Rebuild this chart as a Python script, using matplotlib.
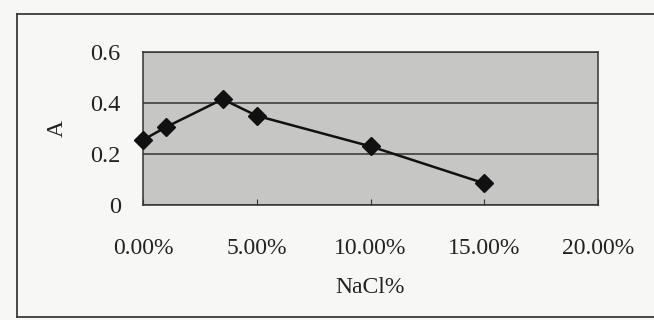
import matplotlib
matplotlib.use("Agg")
import matplotlib.pyplot as plt
from matplotlib.lines import Line2D

nacl = [0.0, 0.01, 0.035, 0.05, 0.10, 0.15]
absorb = [0.255, 0.305, 0.415, 0.35, 0.23, 0.085]
xticks = [0.0, 0.05, 0.10, 0.15, 0.20]
xticklabels = ["0.00%", "5.00%", "10.00%", "15.00%", "20.00%"]
yticks = [0, 0.2, 0.4, 0.6]
yticklabels = ["0", "0.2", "0.4", "0.6"]

plt.rcParams['font.family'] = ['Liberation Serif', 'DejaVu Serif']

W, H = 654, 320
fig = plt.figure(figsize=(6.54, 3.2), dpi=100, facecolor='#f7f7f5')
# outer chart frame: top, left, bottom (right edge is cut off in the scan)
L, R, T, B = 17 / W, 1.0, 1 - 14 / H, 1 - 317 / H
for xs, ys in [([L, R], [T, T]), ([L, L], [T, B]), ([L, R], [B, B])]:
    fig.add_artist(Line2D(xs, ys, transform=fig.transFigure,
                          color='#3a3a3a', linewidth=1.3))

ax = fig.add_axes([143 / W, 1 - 205 / H, (598 - 143) / W, (205 - 52) / H])
ax.set_facecolor('#c6c6c4')
ax.plot(nacl, absorb, color='#111111', linewidth=1.8, marker='D',
        markersize=9.5, markerfacecolor='#111111', markeredgecolor='#111111',
        zorder=3, clip_on=False)

ax.set_xlim(0, 0.20)
ax.set_ylim(0, 0.6)
ax.set_xticks(xticks)
ax.set_xticklabels(xticklabels, fontsize=17, color='#222222')
ax.set_yticks(yticks)
ax.set_yticklabels(yticklabels, fontsize=17.5, color='#222222')
ax.tick_params(axis='x', length=4, direction='in', pad=24, color='#333333')
ax.tick_params(axis='y', length=0, pad=16)
ax.yaxis.grid(True, color='#333333', linewidth=1.1)
ax.set_axisbelow(True)
for s in ax.spines.values():
    s.set_color('#333333')
    s.set_linewidth(1.1)

ax.set_xlabel("NaCl%", fontsize=17, color='#222222', labelpad=13)
ax.set_ylabel("A", fontsize=17, color='#222222', labelpad=16)

fig.savefig("out.png", dpi=100, facecolor=fig.get_facecolor())
